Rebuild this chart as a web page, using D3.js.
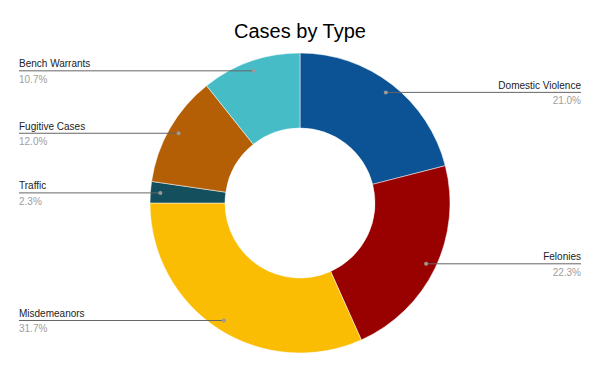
<!DOCTYPE html>
<html>
<head>
<meta charset="utf-8">
<script src="https://cdn.jsdelivr.net/npm/d3@7"></script>
<style>
  body { margin: 0; background: #fff; }
  text { font-family: Arial, "Liberation Sans", sans-serif; }
</style>
</head>
<body>
<svg width="600" height="371"></svg>
<script>
const WIDTH = 600
const HEIGHT = 371

const categories = ['Domestic Violence', 'Felonies', 'Misdemeanors', 'Traffic', 'Fugitive Cases', 'Bench Warrants']
const values = [21.0, 22.3, 31.7, 2.3, 12.0, 10.7]
const colors = ['#0b5394', '#990000', '#fbbc04', '#134f5c', '#b45f06', '#46bdc6']

const cx = 300, cy = 203
const outerR = 150, innerR = 75, dotR = 140

const data = categories.map((name, i) => ({name: name, value: values[i], color: colors[i]}))

const svg = d3.select('svg')

svg.append('text')
    .attr('x', WIDTH / 2)
    .attr('y', 38)
    .attr('text-anchor', 'middle')
    .attr('font-size', 20)
    .attr('fill', '#000')
    .text('Cases by Type')

const pie = d3.pie().value(d => d.value).sort(null)
const arc = d3.arc().innerRadius(innerR).outerRadius(outerR)
const arcs = pie(data)

const g = svg.append('g').attr('transform', `translate(${cx},${cy})`)

g.selectAll('path')
    .data(arcs)
    .enter().append('path')
    .attr('d', arc)
    .attr('fill', d => d.data.color)
    .attr('stroke', '#fff')
    .attr('stroke-width', 0.5)

const total = d3.sum(values)
const labels = svg.append('g')

arcs.forEach(d => {
    const mid = (d.startAngle + d.endAngle) / 2
    const px = cx + Math.sin(mid) * dotR
    const py = cy - Math.cos(mid) * dotR
    const right = Math.sin(mid) > 0
    const ex = right ? 581 : 19
    const anchor = right ? 'end' : 'start'

    labels.append('line')
        .attr('x1', px).attr('y1', py)
        .attr('x2', ex).attr('y2', py)
        .attr('stroke', '#666')
        .attr('stroke-width', 1)
    labels.append('circle')
        .attr('cx', px).attr('cy', py)
        .attr('r', 2)
        .attr('fill', '#999')
    labels.append('text')
        .attr('x', ex).attr('y', py - 3.5)
        .attr('text-anchor', anchor)
        .attr('font-size', 10)
        .attr('fill', '#222')
        .text(d.data.name)
    labels.append('text')
        .attr('x', ex).attr('y', py + 12)
        .attr('text-anchor', anchor)
        .attr('font-size', 10)
        .attr('fill', '#9e9e9e')
        .text((d.data.value / total * 100).toFixed(1) + '%')
})
</script>
</body>
</html>
